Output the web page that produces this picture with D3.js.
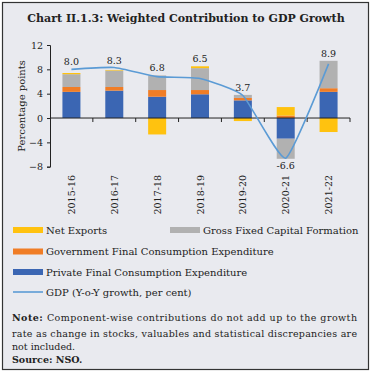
<!DOCTYPE html>
<html>
<head>
<meta charset="utf-8">
<script src="https://cdn.jsdelivr.net/npm/d3@7"></script>
<style>
  html, body { margin: 0; padding: 0; background: #fff; }
  svg { display: block; font-family: "DejaVu Serif", serif; }
</style>
</head>
<body>
<div id="chart"></div>
<script>
// données
const years = ["2015-16", "2016-17", "2017-18", "2018-19", "2019-20", "2020-21", "2021-22"];
const pfce = [4.3, 4.5, 3.5, 3.9, 2.9, -3.4, 4.3];
const gfce = [0.8, 0.6, 1.1, 0.7, 0.4, 0.4, 0.6];
const gfcf = [2.1, 2.7, 2.4, 3.6, 0.5, -3.3, 4.5];
const netExports = [0.2, 0.1, -2.7, 0.3, -0.5, 1.4, -2.3];
const gdp = [8.0, 8.3, 6.8, 6.5, 3.7, -6.6, 8.9];
const yTicks = [-8, -4, 0, 4, 8, 12];

const keys = ["pfce", "gfce", "gfcf", "nx"];
const colors = { pfce: "#3b66b3", gfce: "#f07d26", gfcf: "#b1b1b1", nx: "#ffc20f" };
const lineColor = "#5b9bd5";

const width = 372, height = 374;
const marginLeft = 50, plotRight = 350;

const svg = d3.select("#chart").append("svg")
    .attr("width", width)
    .attr("height", height);

// fond + cadre
svg.append("rect")
    .attr("x", 2.5).attr("y", 2.5)
    .attr("width", 366).attr("height", 367)
    .attr("fill", "#e9eaef")
    .attr("stroke", "#333").attr("stroke-width", 1.2);

// titre
svg.append("text")
    .attr("x", 186).attr("y", 22)
    .attr("text-anchor", "middle")
    .attr("font-weight", "bold")
    .attr("font-size", 11)
    .attr("fill", "#222")
    .text("Chart II.1.3: Weighted Contribution to GDP Growth");

// échelles
const x = d3.scaleBand()
    .domain(years)
    .range([marginLeft, plotRight])
    .paddingInner(0.58)
    .paddingOuter(0.29);

const y = d3.scaleLinear()
    .domain([-8, 12])
    .range([166.7, 45]);

// empilement
const rows = years.map((yr, i) => ({ year: yr, pfce: pfce[i], gfce: gfce[i], gfcf: gfcf[i], nx: netExports[i] }));
const series = d3.stack().keys(keys).offset(d3.stackOffsetDiverging)(rows);

svg.append("g")
    .selectAll("g")
    .data(series)
    .join("g")
    .attr("fill", d => colors[d.key])
    .selectAll("rect")
    .data(d => d)
    .join("rect")
    .attr("x", d => x(d.data.year))
    .attr("y", d => y(Math.max(d[0], d[1])))
    .attr("height", d => Math.abs(y(d[0]) - y(d[1])))
    .attr("width", x.bandwidth());

// axe Y
const yAxis = svg.append("g")
    .attr("transform", `translate(${marginLeft},0)`)
    .call(d3.axisLeft(y).tickValues(yTicks).tickSize(3).tickPadding(4));
yAxis.select(".domain").attr("stroke", "#222");
yAxis.selectAll(".tick line").attr("stroke", "#222");
yAxis.selectAll("text").attr("font-family", "DejaVu Serif").attr("font-size", 9.5).attr("fill", "#222");

svg.append("text")
    .attr("transform", `translate(25,${y(2)}) rotate(-90)`)
    .attr("text-anchor", "middle")
    .attr("font-size", 10)
    .attr("fill", "#222")
    .text("Percentage points");

// axe X (ligne du zéro + graduations entre catégories)
const step = x.step();
const x0 = marginLeft;
svg.append("line")
    .attr("x1", x0).attr("x2", plotRight)
    .attr("y1", y(0)).attr("y2", y(0))
    .attr("stroke", "#222");
svg.append("g")
    .selectAll("line")
    .data(d3.range(1, years.length + 1))
    .join("line")
    .attr("x1", i => x0 + i * step).attr("x2", i => x0 + i * step)
    .attr("y1", y(0)).attr("y2", y(0) + 4)
    .attr("stroke", "#222");

svg.append("g")
    .selectAll("text")
    .data(years)
    .join("text")
    .attr("transform", d => `translate(${x(d) + x.bandwidth() / 2 + 3.5},175) rotate(-90)`)
    .attr("text-anchor", "end")
    .attr("font-size", 9.5)
    .attr("fill", "#222")
    .text(d => d);

// ligne PIB
const cx = i => x(years[i]) + x.bandwidth() / 2;
const line = d3.line()
    .x((d, i) => cx(i))
    .y(d => y(d))
    .curve(d3.curveCardinal.tension(0.55));

svg.append("path")
    .datum(gdp)
    .attr("fill", "none")
    .attr("stroke", lineColor)
    .attr("stroke-width", 1.6)
    .attr("d", line);

// étiquettes du PIB
svg.append("g")
    .selectAll("text")
    .data(gdp)
    .join("text")
    .attr("x", (d, i) => cx(i))
    .attr("y", (d, i) => {
        if (d < 0) return y(Math.min(d, pfce[i] + gfcf[i])) + 10;
        const top = Math.max(d, pfce[i] + gfce[i] + gfcf[i] + Math.max(0, netExports[i]));
        return y(top) - 4;
    })
    .attr("text-anchor", "middle")
    .attr("font-size", 9.5)
    .attr("fill", "#222")
    .text(d => d.toFixed(1));

// légende
const legendItems = [
    { label: "Net Exports", key: "nx", x: 13, y: 230 },
    { label: "Gross Fixed Capital Formation", key: "gfcf", x: 170, y: 230 },
    { label: "Government Final Consumption Expenditure", key: "gfce", x: 13, y: 251.5 },
    { label: "Private Final Consumption Expenditure", key: "pfce", x: 13, y: 272 }
];
const legend = svg.append("g");
legendItems.forEach(d => {
    legend.append("rect")
        .attr("x", d.x).attr("y", d.y - 3)
        .attr("width", 30).attr("height", 6)
        .attr("fill", colors[d.key]);
    legend.append("text")
        .attr("x", d.x + 33).attr("y", d.y + 3.5)
        .attr("font-size", 10)
        .attr("fill", "#222")
        .text(d.label);
});
legend.append("line")
    .attr("x1", 13).attr("x2", 43)
    .attr("y1", 292).attr("y2", 292)
    .attr("stroke", lineColor).attr("stroke-width", 1.6);
legend.append("text")
    .attr("x", 46).attr("y", 295.5)
    .attr("font-size", 10)
    .attr("fill", "#222")
    .text("GDP (Y-o-Y growth, per cent)");

// note et source
const notes = svg.append("g").attr("font-size", 9.5).attr("fill", "#222");
const n1 = notes.append("text").attr("x", 12).attr("y", 321)
    .attr("textLength", 345).attr("lengthAdjust", "spacing");
n1.append("tspan").attr("font-weight", "bold").text("Note: ");
n1.append("tspan").text("Component-wise contributions do not add up to the growth");
notes.append("text").attr("x", 12).attr("y", 337)
    .attr("textLength", 345).attr("lengthAdjust", "spacing")
    .text("rate as change in stocks, valuables and statistical discrepancies are");
notes.append("text").attr("x", 12).attr("y", 350)
    .text("not included.");
notes.append("text").attr("x", 12).attr("y", 363)
    .attr("font-weight", "bold")
    .text("Source: NSO.");
</script>
</body>
</html>
